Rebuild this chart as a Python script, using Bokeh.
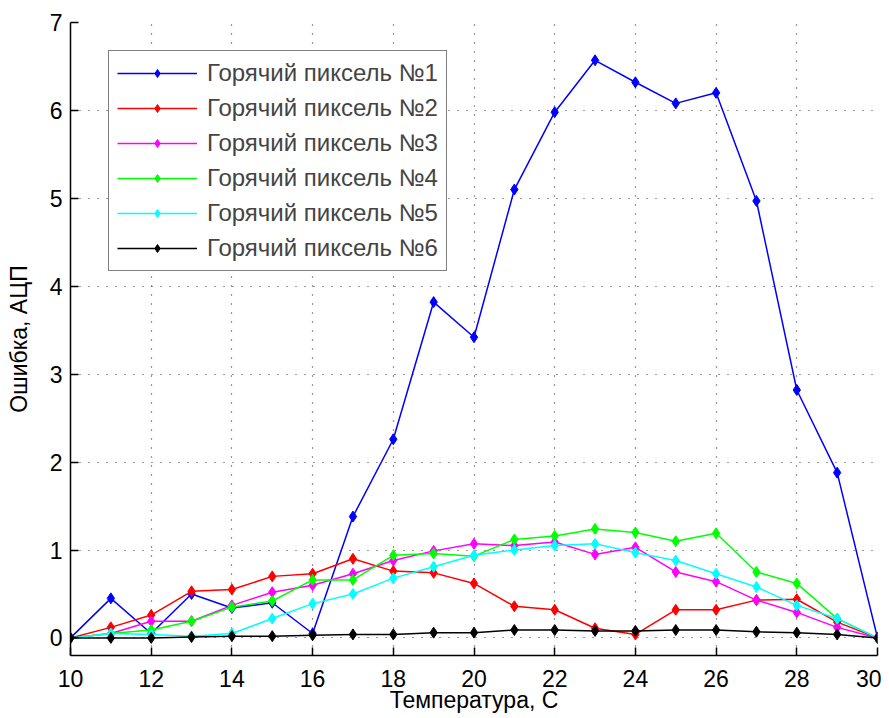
from bokeh.plotting import figure
from bokeh.embed import file_html
from bokeh.resources import INLINE
from bokeh.models import Range1d, FixedTicker, Legend

temps = list(range(10, 31))
pix1 = [0, 0.45, 0.05, 0.50, 0.34, 0.40, 0.05, 1.38, 2.26, 3.82, 3.42, 5.10, 5.98, 6.57, 6.32, 6.08, 6.20, 4.97, 2.82, 1.88, 0]
pix2 = [0, 0.12, 0.26, 0.53, 0.55, 0.70, 0.73, 0.90, 0.76, 0.74, 0.62, 0.36, 0.32, 0.11, 0.04, 0.32, 0.32, 0.43, 0.44, 0.18, 0]
pix3 = [0, 0.05, 0.19, 0.19, 0.37, 0.52, 0.60, 0.73, 0.88, 0.99, 1.07, 1.05, 1.09, 0.95, 1.03, 0.75, 0.64, 0.43, 0.29, 0.12, 0]
pix4 = [0, 0.05, 0.09, 0.19, 0.35, 0.42, 0.66, 0.66, 0.94, 0.96, 0.93, 1.12, 1.16, 1.24, 1.20, 1.10, 1.19, 0.75, 0.62, 0.22, 0]
pix5 = [0, 0.05, 0.04, 0.02, 0.05, 0.22, 0.39, 0.50, 0.68, 0.81, 0.94, 1.00, 1.05, 1.07, 0.97, 0.88, 0.73, 0.58, 0.37, 0.22, 0]
pix6 = [0, 0, 0, 0.01, 0.02, 0.02, 0.03, 0.04, 0.04, 0.06, 0.06, 0.09, 0.09, 0.08, 0.08, 0.09, 0.09, 0.07, 0.06, 0.04, 0]

labels = ["Горячий пиксель №1", "Горячий пиксель №2", "Горячий пиксель №3",
          "Горячий пиксель №4", "Горячий пиксель №5", "Горячий пиксель №6"]
colors = ["#0000FF", "#FF0000", "#FF00FF", "#00FF00", "#00FFFF", "#000000"]
series = [pix1, pix2, pix3, pix4, pix5, pix6]

x_ticks = list(range(10, 31, 2))
y_ticks = list(range(0, 8))

FONT = "Liberation Sans"
FS = "23px"

p = figure(width=881, height=717, output_backend="svg", toolbar_location=None,
           x_range=Range1d(10, 30), y_range=Range1d(-0.2, 7),
           min_border_left=70, min_border_right=4, min_border_top=22, min_border_bottom=62)
p.outline_line_color = None
p.background_fill_color = "white"

items = []
for lab, col, ys in zip(labels, colors, series):
    r1 = p.line(temps, ys, line_color=col, line_width=1.5)
    r2 = p.scatter(temps, ys, marker="diamond", size=11, fill_color=col, line_color=col)
    items.append((lab, [r1, r2]))

legend = Legend(items=items, location=(38, 384))
legend.label_text_font = FONT
legend.label_text_font_size = "24px"
legend.glyph_width = 80
legend.glyph_height = 20
legend.label_standoff = 10
legend.spacing = 7
legend.padding = 8
legend.margin = 0
legend.border_line_color = "black"
legend.border_line_width = 1.5
legend.background_fill_alpha = 1.0
p.add_layout(legend, "center")

for ax in (p.xaxis[0], p.yaxis[0]):
    ax.axis_line_color = "black"
    ax.axis_line_width = 1.5
    ax.major_tick_in = 8
    ax.major_tick_out = 0
    ax.minor_tick_line_color = None
    ax.major_tick_line_color = "black"
    ax.major_tick_line_width = 1.5
    ax.major_label_text_font = FONT
    ax.major_label_text_font_size = FS
    ax.major_label_text_color = "black"
    ax.axis_label_text_font = FONT
    ax.axis_label_text_font_size = FS
    ax.axis_label_text_font_style = "normal"
    ax.axis_label_text_color = "black"

p.xaxis.ticker = FixedTicker(ticks=x_ticks)
p.yaxis.ticker = FixedTicker(ticks=y_ticks)
p.xaxis.axis_label = "Температура, С"
p.yaxis.axis_label = "Ошибка, АЦП"
p.xaxis.major_label_standoff = 14
p.xaxis.axis_label_standoff = -3
p.yaxis.major_label_standoff = 8
p.yaxis.axis_label_standoff = 15

for g in (p.xgrid[0], p.ygrid[0]):
    g.grid_line_color = "#333333"
    g.grid_line_width = 1.2
    g.grid_line_dash = "1 8"
p.xgrid.ticker = FixedTicker(ticks=x_ticks)
p.ygrid.ticker = FixedTicker(ticks=y_ticks)

open("out.html", "w").write(file_html(p, INLINE))
